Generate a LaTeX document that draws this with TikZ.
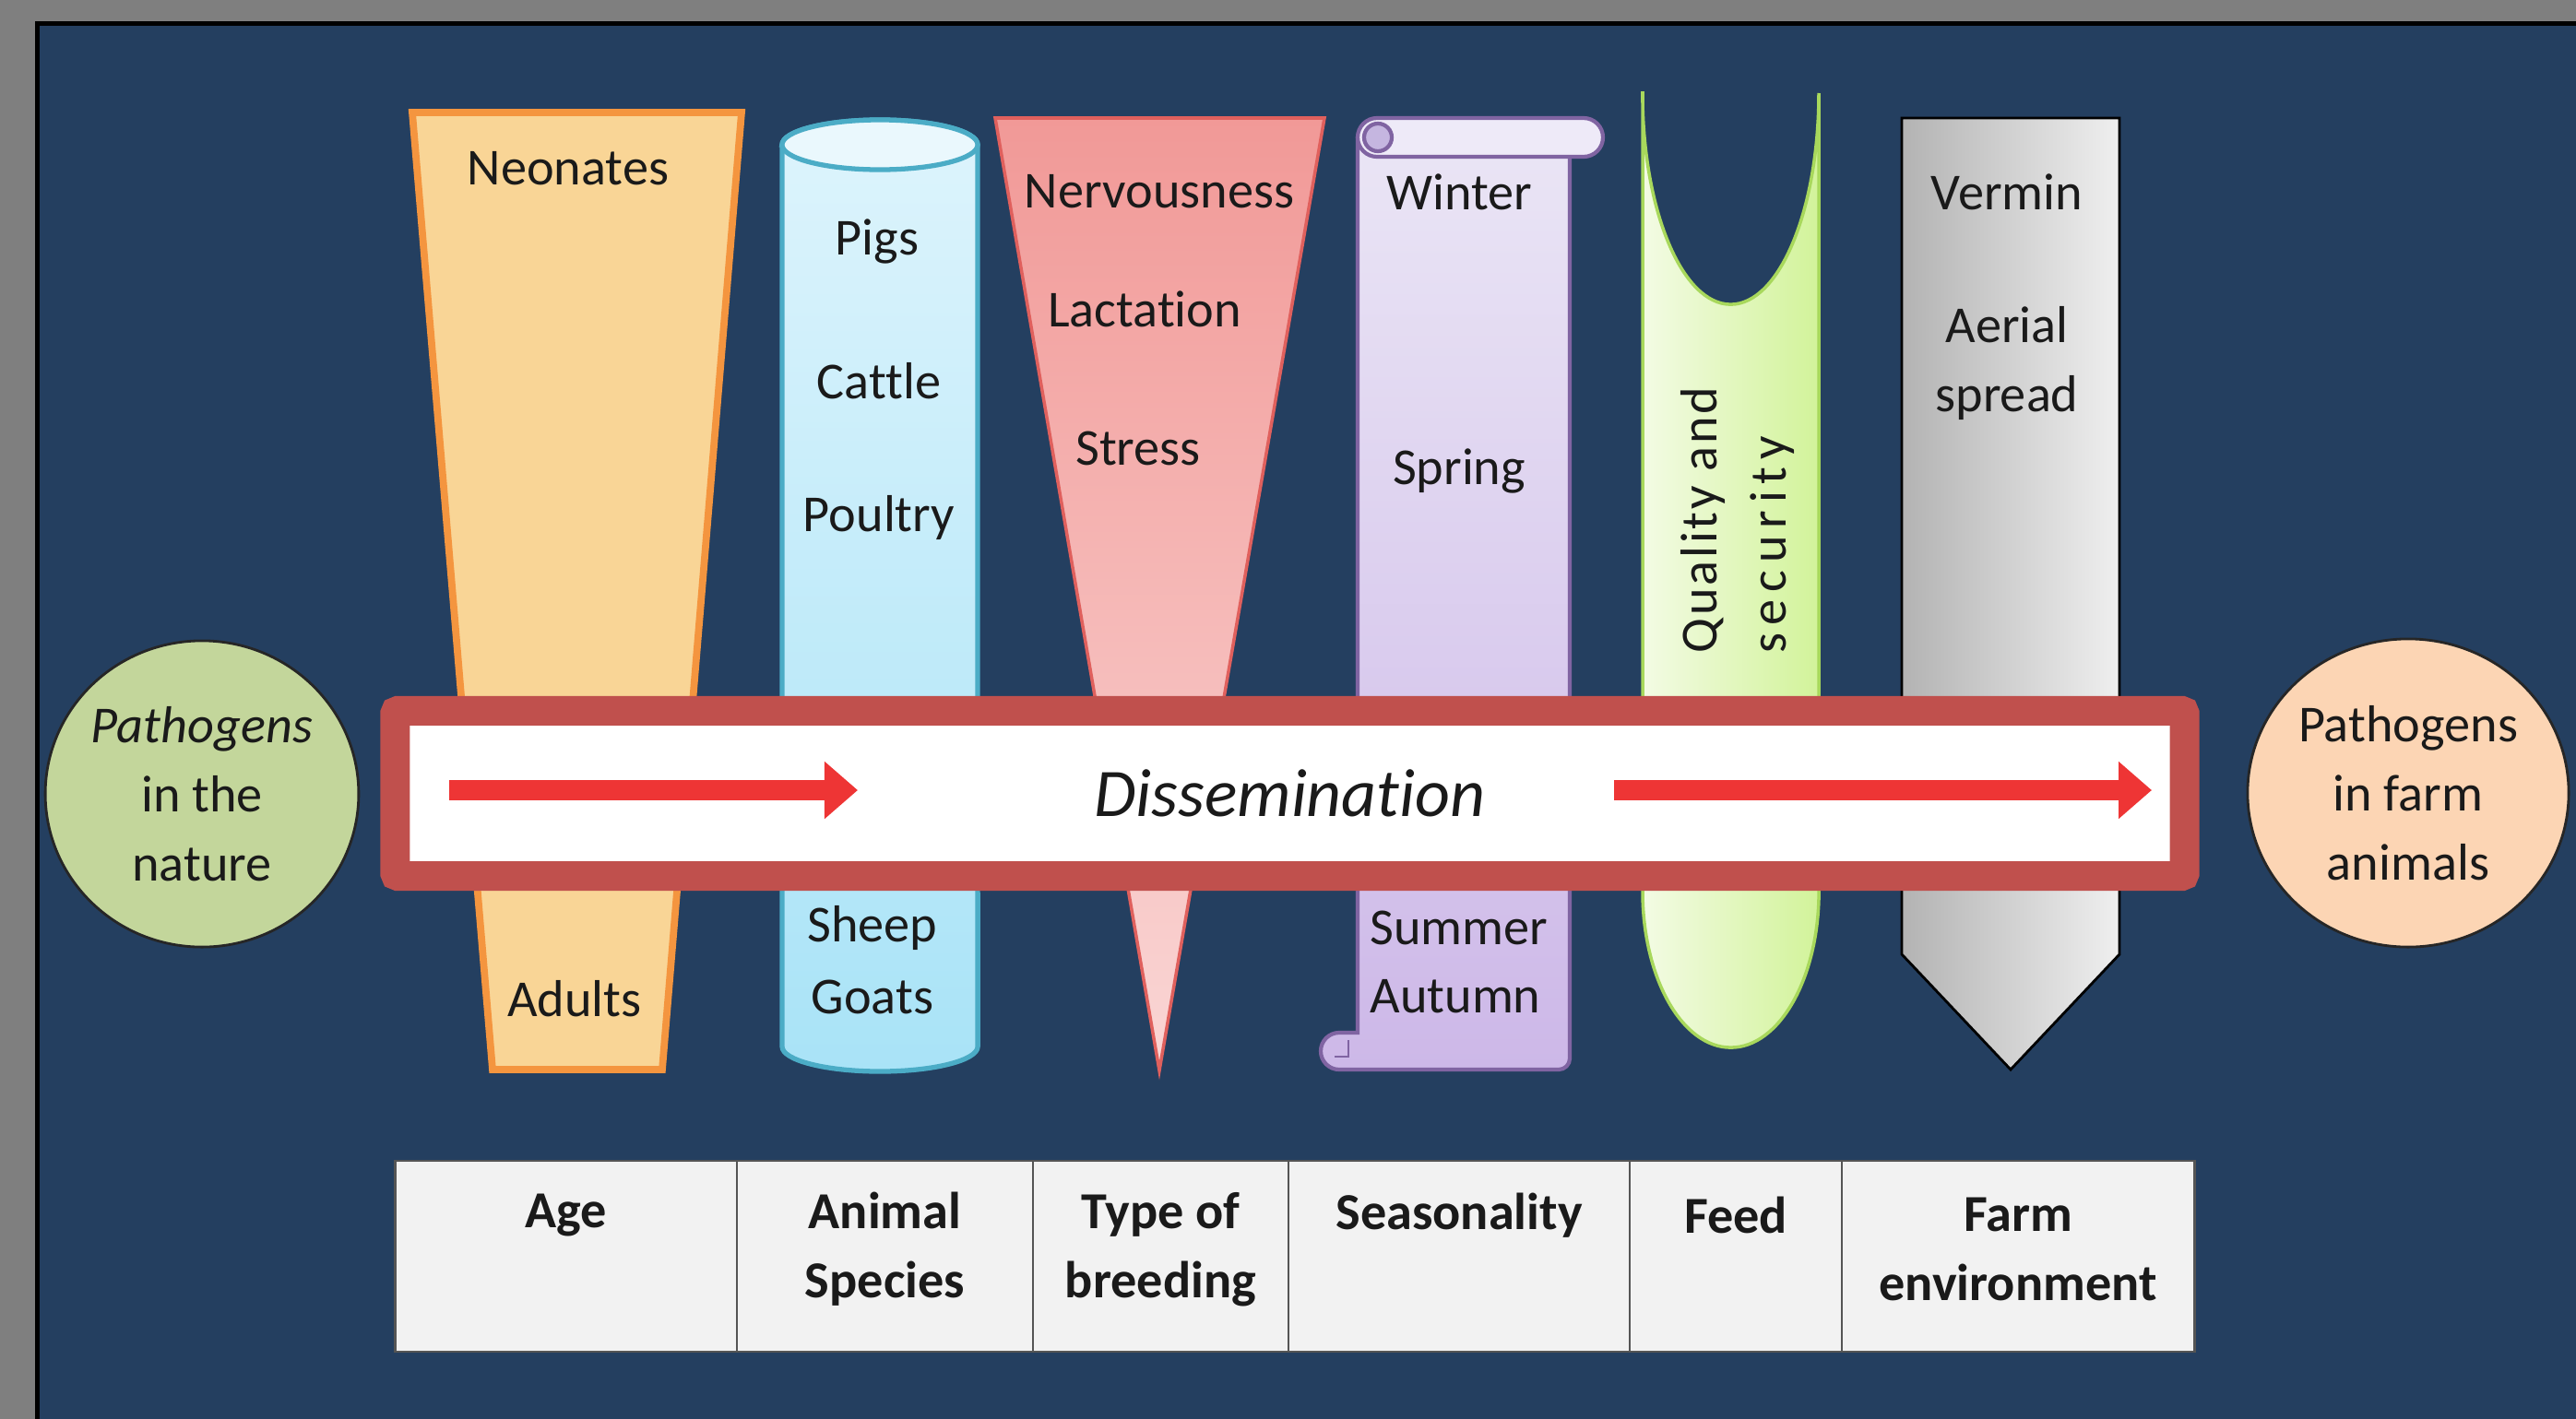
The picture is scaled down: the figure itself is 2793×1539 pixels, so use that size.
\documentclass[tikz,border=0pt]{standalone}
\usepackage{fontspec}
\setmainfont{Carlito}[Ligatures=NoCommon]
\usetikzlibrary{arrows.meta,shapes.geometric}
\definecolor{navy}{HTML}{243F60}
\definecolor{framegray}{HTML}{7F7F7F}
\definecolor{ink}{HTML}{1A1A1A}
\definecolor{agefill}{HTML}{F9D596}
\definecolor{ageline}{HTML}{F4953F}
\definecolor{cylT}{HTML}{DDF4FC}
\definecolor{cylB}{HTML}{A9E3F7}
\definecolor{cylTop}{HTML}{EAF8FD}
\definecolor{cylline}{HTML}{4BACC6}
\definecolor{triT}{HTML}{F19997}
\definecolor{triB}{HTML}{FAD6D5}
\definecolor{triline}{HTML}{E0605D}
\definecolor{scrT}{HTML}{EAE5F5}
\definecolor{scrB}{HTML}{CDB8E8}
\definecolor{scrTop}{HTML}{EEEAF8}
\definecolor{scrCurl}{HTML}{C5B6E0}
\definecolor{scrline}{HTML}{8064A2}
\definecolor{feedL}{HTML}{F3FBE4}
\definecolor{feedR}{HTML}{D2F39A}
\definecolor{feedline}{HTML}{A8D85C}
\definecolor{grayL}{HTML}{B3B3B3}
\definecolor{grayR}{HTML}{EFEFEF}
\definecolor{barred}{HTML}{C0504D}
\definecolor{arrred}{HTML}{EE3535}
\definecolor{greencirc}{HTML}{C3D69B}
\definecolor{peachcirc}{HTML}{FCD5B4}
\definecolor{cellfill}{HTML}{F2F2F2}
\definecolor{cellline}{HTML}{555555}
\newcommand{\diafs}{\fontsize{16}{21.3}\selectfont}
\begin{document}
\begin{tikzpicture}[x=0.01cm,y=-0.01cm]
\tikzset{
  lbl/.style={font=\diafs, text=ink, inner sep=0pt, align=center},
  hdr/.style={font=\diafs\bfseries, text=ink, inner sep=0pt, align=center},
  cell/.style={draw=cellline, line width=0.8pt, fill=cellfill, minimum height=2.07cm, inner sep=0pt},
  disarrow/.style={draw=arrred, line width=0.22cm, -{Triangle[length=0.36cm,width=0.6cm]}},
  pcircle/.style={ellipse, draw=black!85, line width=0.8pt, inner sep=0pt, align=center, font=\diafs, text=ink},
}
\useasboundingbox (0,0) rectangle (2793,1539);
% frame and background
\fill[framegray] (0,0) rectangle (2793,1539);
\fill[black] (38,23) rectangle (2793,1539);
\fill[navy] (43,28) rectangle (2793,1539);

% Age trapezoid
\draw[draw=ageline, line width=2.2pt, fill=agefill, line join=miter]
  (447,122) -- (804,122) -- (718,1160) -- (534,1160) -- cycle;

% Animal species cylinder
\draw[draw=cylline, line width=1.5pt, top color=cylT, bottom color=cylB]
  (848,157) -- (848,1135) arc[start angle=180,end angle=360,x radius=1.06cm,y radius=0.27cm]
  -- (1060,157) arc[start angle=0,end angle=180,x radius=1.06cm,y radius=0.27cm] -- cycle;
\draw[draw=cylline, line width=1.5pt, fill=cylTop] (954,157) ellipse [x radius=1.06cm, y radius=0.27cm];

% Type of breeding triangle
\draw[draw=triline, line width=1pt, top color=triT, bottom color=triB]
  (1079,128) -- (1436,128) -- (1257,1161) -- cycle;

% Seasonality scroll
\draw[draw=scrline, line width=1.2pt, top color=scrT, bottom color=scrB]
  (1472,150) -- (1702,150) [rounded corners=0.12cm] -- (1702,1160) [sharp corners] -- (1452,1160)
  arc[start angle=270,end angle=90,radius=0.2cm] -- (1472,1120) -- cycle;
\draw[draw=scrline, line width=0.8pt] (1462,1128) -- (1462,1146) -- (1447,1146);
\draw[draw=scrline, line width=1.2pt, fill=scrTop, rounded corners=0.21cm] (1472,128) rectangle (1738,170);
\draw[draw=scrline, line width=1.2pt, fill=scrCurl] (1494,149) circle[radius=0.15cm];

% Feed shape
\draw[draw=feedline, line width=1pt, left color=feedL, right color=feedR]
  (1781,101) -- (1781,967) arc[start angle=180,end angle=360,x radius=0.955cm,y radius=1.69cm]
  -- (1972,101) arc[start angle=0,end angle=-180,x radius=0.955cm,y radius=2.29cm] -- cycle;

% Farm environment pentagon
\draw[draw=black, line width=0.8pt, left color=grayL, right color=grayR]
  (2062,128) -- (2298,128) -- (2298,1035) -- (2180,1160) -- (2062,1035) -- cycle;

% labels in shapes
\node[lbl] (neo) at (616,183) {Neonates};
\node[lbl] (adu) at (623,1083) {Adults};
\node[lbl] (pig) at (951,262) {Pigs};
\node[lbl] (cat) at (953,413) {Cattle};
\node[lbl] (pou) at (953,561) {Poultry};
\node[lbl] (she) at (946,1006) {Sheep};
\node[lbl] (goa) at (946,1081) {Goats};
\node[lbl] (ner) at (1257,208) {Nervousness};
\node[lbl] (lac) at (1241,335) {Lactation};
\node[lbl] (str) at (1234,486) {Stress};
\node[lbl] (win) at (1582,208) {Winter};
\node[lbl] (spr) at (1582,511) {Spring};
\node[lbl] (sum) at (1582,1006) {Summer};
\node[lbl] (aut) at (1578,1081) {Autumn};
\node[lbl, rotate=90, align=left] (qs) at (1884,564)
  {{\addfontfeature{LetterSpace=5}Quality and}\\{\addfontfeature{LetterSpace=14}security}};
\node[lbl] (ver) at (2176,208) {Vermin};
\node[lbl] (aer) at (2176,394) {Aerial\\spread};

% Dissemination bar
\node[draw=barred, line width=0.32cm, fill=white, rounded corners=0.03cm,
      minimum width=19.39cm, minimum height=1.79cm, inner sep=0pt,
      font=\fontsize{21}{25}\selectfont\itshape, text=ink] (dis) at (1398.5,860.5) {Dissemination};
\coordinate (la) at (487,857);
\coordinate (lb) at (930,857);
\coordinate (ra) at (1750,857);
\coordinate (rb) at (2333,857);
\draw[disarrow] (la) -- (lb);
\draw[disarrow] (ra) -- (rb);

% circles
\node[pcircle, fill=greencirc, minimum width=3.2cm, minimum height=3.32cm] (src) at (219,861)
  {\itshape Pathogens\\in the\\nature};
\node[pcircle, fill=peachcirc, minimum width=3.48cm, minimum height=3.34cm] (dst) at (2611,860)
  {Pathogens\\in farm\\animals};

% table
\node[cell, minimum width=3.70cm] (c1) at (614,1362.5) {};
\node[cell, minimum width=3.21cm] (c2) at (959.5,1362.5) {};
\node[cell, minimum width=2.77cm] (c3) at (1258.5,1362.5) {};
\node[cell, minimum width=3.70cm] (c4) at (1582,1362.5) {};
\node[cell, minimum width=2.30cm] (c5) at (1882,1362.5) {};
\node[cell, minimum width=3.82cm] (c6) at (2188,1362.5) {};
\node[hdr] (h1) at (614,1318) {Age};
\node[hdr] (h2) at (959.5,1355) {Animal\\Species};
\node[hdr] (h3) at (1258.5,1355) {Type of\\breeding};
\node[hdr] (h4) at (1582,1318) {Seasonality};
\node[hdr] (h5) at (1882,1318) {Feed};
\node[hdr] (h6) at (2188,1355) {Farm\\environment};
\end{tikzpicture}
\end{document}
